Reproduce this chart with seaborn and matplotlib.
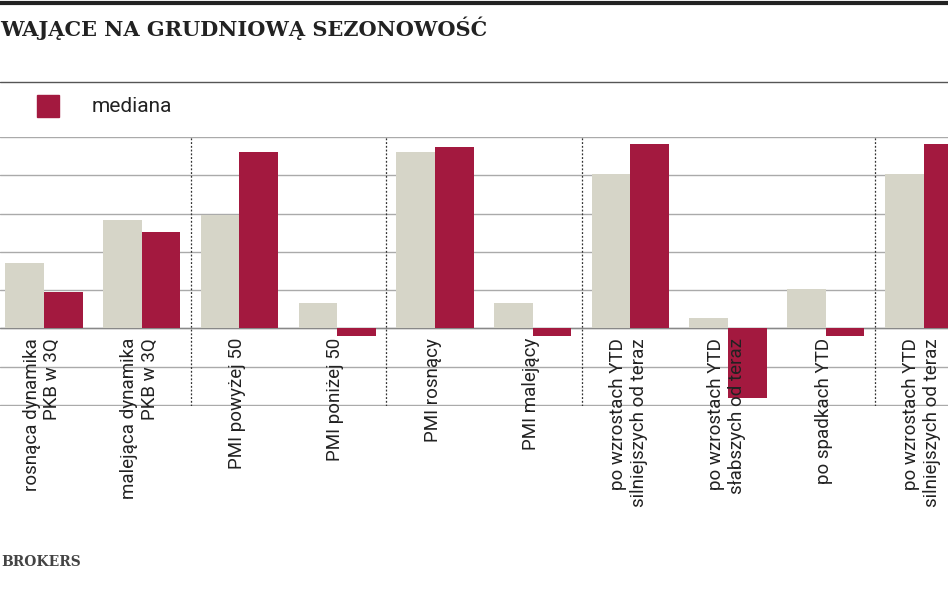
import matplotlib
matplotlib.use("Agg")
import matplotlib.pyplot as plt
import seaborn as sns
import pandas as pd

categories = ["rosnąca dynamika\nPKB w 3Q", "malejąca dynamika\nPKB w 3Q", "PMI powyżej 50", "PMI poniżej 50",
              "PMI rosnący", "PMI malejący", "po wzrostach YTD\nsilniejszych od teraz",
              "po wzrostach YTD\nsłabszych od teraz", "po spadkach YTD", "po wzrostach YTD\nsilniejszych od teraz "]
srednia = [1.72, 2.82, 2.95, 0.65, 4.62, 0.65, 4.02, 0.26, 1.04, 4.02]
mediana = [0.94, 2.53, 4.62, -0.2, 4.73, -0.2, 4.83, -1.83, -0.2, 4.83]

sns.set_theme(style="white")
plt.rcParams['font.family'] = ['Roboto', 'DejaVu Sans']

df = pd.DataFrame({"cat": categories * 2, "val": srednia + mediana,
                   "ser": ["średnia"] * 10 + ["mediana"] * 10})

fig = plt.figure(figsize=(9.48, 5.93), dpi=100)
ax = fig.add_axes([0, 1 - 406/593, 1, (406-137)/593])
sns.barplot(data=df, x="cat", y="val", hue="ser", palette=["#d6d5c8", "#a3193f"],
            saturation=1, width=0.79, dodge=True, legend=False, ax=ax, zorder=3,
            linewidth=0)
ax.set_xlim(-0.45, 9.25)
ax.set_ylim(-2.03, 5)
ax.set_yticks(range(-2, 6))
ax.yaxis.grid(True, color="#aaaaaa", lw=1)
ax.set_axisbelow(True)
ax.set_yticklabels([])
ax.set_xticks([])
ax.set_xlabel(""); ax.set_ylabel("")
for s in ax.spines.values():
    s.set_visible(False)
ax.axhline(0, color="#888888", lw=1, zorder=2)
for x in [1.5, 3.5, 5.5, 8.5]:
    ax.axvline(x, color="#333333", lw=0.9, ls=(0, (1.5, 1.5)), zorder=1)
for i, c in enumerate(categories):
    ax.text(i - 0.02, -0.25, c.strip(), rotation=90, ha="center", va="top",
            multialignment="right", fontsize=13.5, color="#222222", zorder=5,
            fontstretch="condensed")

fig.add_artist(plt.Line2D([0, 1], [1 - 3/593] * 2, color="#222222", lw=3))
fig.add_artist(plt.Line2D([0, 1], [1 - 82/593] * 2, color="#555555", lw=1))
fig.text(0.0, 1 - 28/593, "WAJĄCE NA GRUDNIOWĄ SEZONOWOŚĆ", family="DejaVu Serif",
         weight="bold", fontsize=15, va="center", color="#222222")
fig.patches.append(plt.Rectangle((37/948, 1 - 117/593), 22/948, 22/593,
                                 transform=fig.transFigure, color="#a3193f", figure=fig))
fig.text(92/948, 1 - 106/593, "mediana", fontsize=15, va="center", color="#222222")
fig.text(1/948, 1 - 562/593, "BROKERS", family="DejaVu Serif", weight="bold",
         fontsize=10, va="center", color="#444444")
fig.savefig("out.png", dpi=100)
